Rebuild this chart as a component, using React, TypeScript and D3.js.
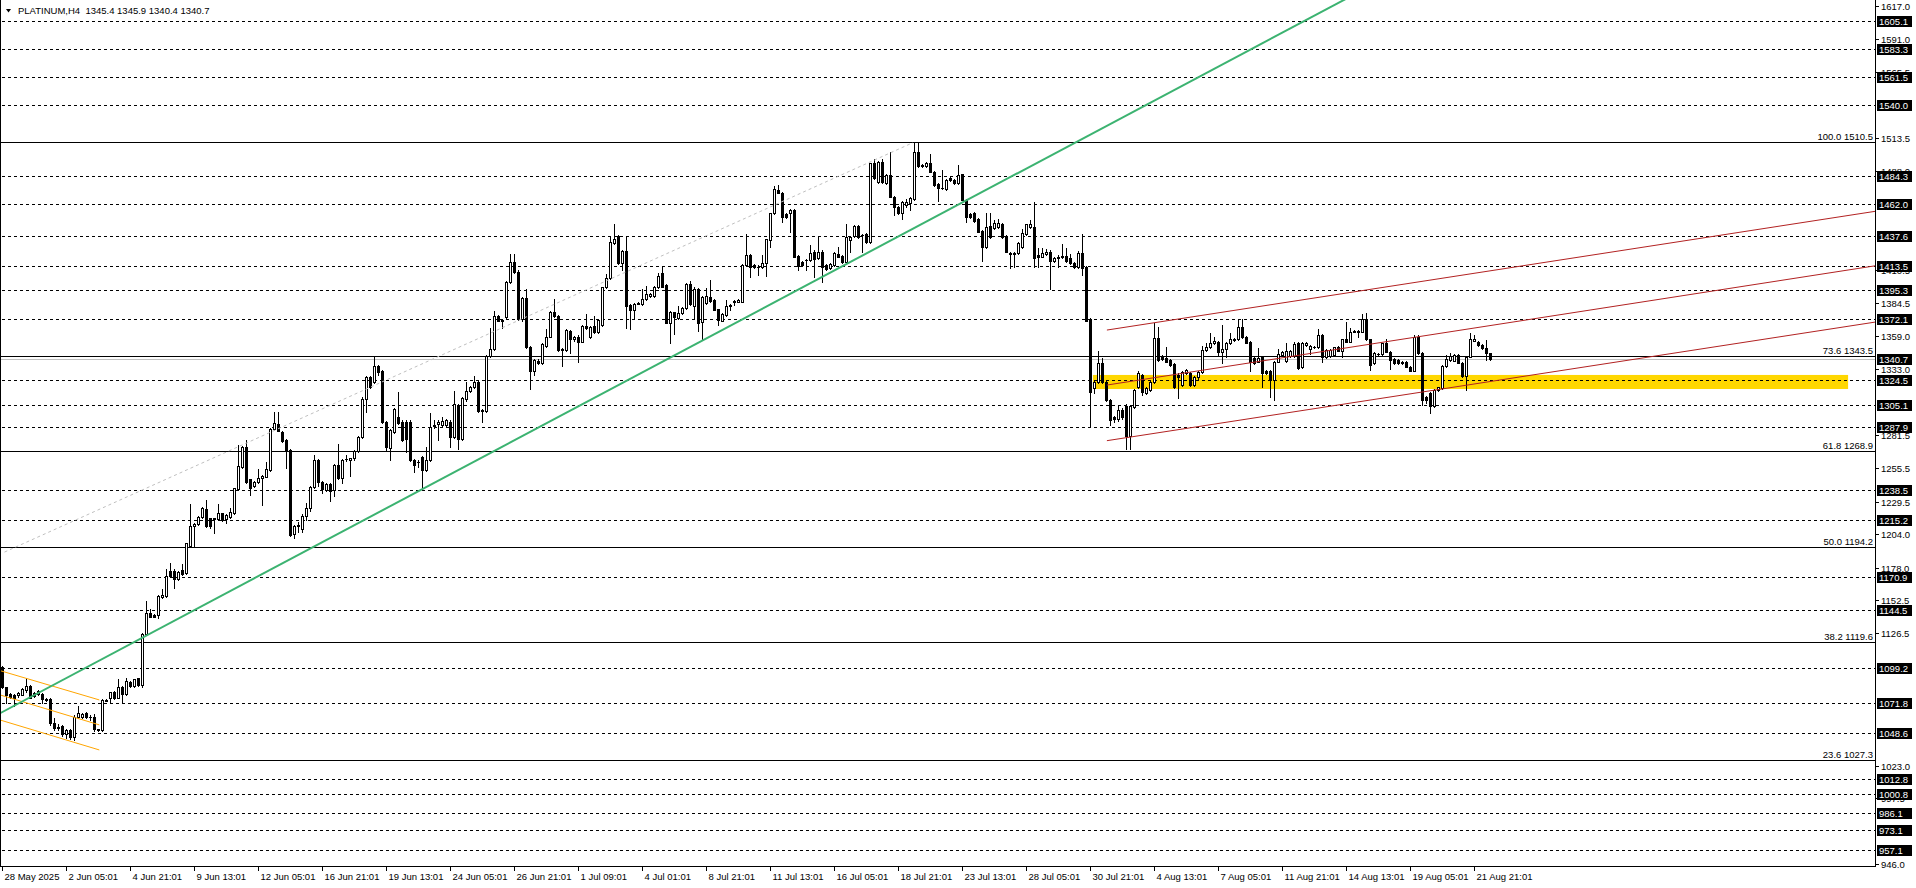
import React from "react";
import * as d3 from "d3";

// ---------------- DATA ----------------
const header = "PLATINUM,H4  1345.4 1345.9 1340.4 1340.7";

// [open, high, low, close] per H4 bar
const barsMayJun: number[][] = [
  [1100, 1101, 1084, 1085], [1084.4, 1085, 1072, 1078.4], [1079.2, 1080, 1076, 1077.1], [1078.4, 1079, 1070, 1076.3],
  [1078.1, 1081, 1077, 1080.2], [1078.4, 1084, 1078, 1083.3], [1082.3, 1092, 1081, 1085.4], [1085.4, 1086, 1076, 1076.3],
  [1080.2, 1081, 1077, 1077.6], [1079.2, 1082.5, 1078.5, 1081.5], [1079.2, 1080, 1072.4, 1075.2], [1075.2, 1076, 1074, 1074.5],
  [1075.2, 1076, 1055, 1056.2], [1056.7, 1060, 1051, 1052.3], [1053.6, 1056, 1051, 1052.8], [1054.1, 1055, 1046, 1047.6],
  [1047.6, 1052, 1044.5, 1051], [1051, 1052, 1044, 1045.3], [1045.3, 1062.5, 1043.2, 1061.4], [1061.4, 1069.8, 1060.5, 1064.6],
  [1061.4, 1064.5, 1060.5, 1063.5], [1064, 1065.3, 1060, 1060.9], [1061.4, 1062.8, 1059, 1061], [1060.9, 1063.5, 1050.5, 1051.5],
  [1051.5, 1052, 1050.5, 1051], [1051, 1075, 1050.5, 1074.5], [1074.5, 1075.3, 1073.5, 1074], [1075.8, 1081, 1071.8, 1080.7],
  [1080.7, 1081.5, 1075.5, 1076.3], [1076.3, 1090.6, 1075.8, 1084.4], [1084.9, 1085.5, 1071.8, 1078.9], [1078.9, 1091.4, 1078.4, 1089.3],
  [1088.8, 1089.5, 1084.5, 1085.4], [1085.4, 1091, 1085, 1090.6], [1091.4, 1092, 1085.5, 1086.2], [1086.2, 1126.5, 1084.4, 1125.8],
  [1125.8, 1151.6, 1125, 1142.2], [1142.2, 1145.3, 1139, 1139.6], [1140.9, 1141.5, 1139, 1139.6], [1140.9, 1156.5, 1138.3, 1155.8],
  [1155.3, 1161, 1154.5, 1156.3], [1155.8, 1176.6, 1155, 1171.4], [1175.6, 1181.3, 1171, 1171.4], [1175.6, 1176.5, 1161.8, 1168.8],
  [1168.8, 1175, 1168, 1174.5], [1176.1, 1180.5, 1172.5, 1173], [1173.5, 1197.5, 1173, 1196.9], [1194.9, 1227.7, 1194, 1210.5],
  [1210.5, 1212.5, 1194.3, 1211.8], [1211.8, 1218, 1211, 1217.3], [1217.3, 1225.6, 1216.5, 1224.3], [1223.5, 1230.8, 1210, 1210.5],
  [1216.5, 1217, 1208.7, 1210.5], [1216, 1217, 1205.3, 1216.5], [1215.7, 1227.4, 1215, 1220.4], [1220.4, 1221, 1214.5, 1215.2],
  [1215.7, 1219.8, 1212.6, 1219.1], [1217.8, 1224.3, 1217, 1221.4], [1220.9, 1240.5, 1220, 1239.9], [1239.2, 1273.8, 1238.5, 1257.4],
  [1256.9, 1273, 1256, 1272.5], [1272.5, 1277.7, 1244.5, 1245.2], [1247, 1247.5, 1234.7, 1240.5], [1241.8, 1246, 1241, 1245.2],
  [1245.2, 1254.8, 1244.5, 1248.3], [1247.8, 1250.3, 1226.9, 1249.6], [1249.1, 1260.8, 1248.5, 1255.1], [1254.3, 1286.8, 1253.5, 1286.1],
  [1286.1, 1299.4, 1285.5, 1291.3], [1290.2, 1299.4, 1284.5, 1285], [1283.7, 1284.5, 1276.5, 1277.2], [1277.7, 1278.5, 1255.6, 1269.9],
  [1269.9, 1270.5, 1203, 1203.5], [1204, 1211, 1200.9, 1210.5], [1210.5, 1213.5, 1205.5, 1211.5],
];

const barsJunJul: number[][] = [
  [1207.9, 1219.5, 1206, 1218.3], [1218.3, 1228.2, 1215.2, 1224.3], [1224.3, 1242, 1222, 1241.3], [1241.3, 1266, 1240.5, 1262.1],
  [1262.1, 1263, 1242, 1245.2], [1244.7, 1245.5, 1236, 1239.2], [1238.7, 1244, 1237.5, 1243.3], [1243.3, 1244, 1230, 1238.1],
  [1238.7, 1259, 1234, 1258.2], [1258.2, 1274.6, 1247.5, 1248.3], [1248.3, 1263, 1244, 1262.1], [1262.6, 1266, 1261.5, 1263.2],
  [1262.1, 1264, 1249.6, 1263.4], [1263.4, 1270, 1262, 1269.4], [1269.4, 1280.5, 1268.5, 1279.8], [1279.8, 1311, 1279, 1309.8],
  [1309.8, 1328, 1299.9, 1327.3], [1327.3, 1328, 1318.5, 1319.4], [1322.8, 1342.9, 1322, 1335.6], [1335.6, 1336.5, 1328.6, 1331.2],
  [1331.7, 1332.5, 1291, 1291.6], [1291.6, 1292.5, 1269, 1272], [1271.2, 1286.5, 1262.1, 1285.6], [1284.3, 1302.5, 1283.5, 1301.7],
  [1296, 1315.5, 1290, 1290.8], [1292.1, 1293, 1277, 1277.7], [1292.1, 1293, 1268.6, 1278.3], [1292.1, 1293, 1261.5, 1262.1],
  [1262.1, 1263, 1253, 1258.2], [1260.8, 1262, 1256.5, 1260.3], [1264.7, 1265.5, 1239.9, 1254.3], [1254.3, 1272.5, 1253.5, 1262.1],
  [1262.1, 1298.6, 1261.5, 1288.2], [1288.6, 1293.4, 1287.5, 1289.5], [1290.3, 1293, 1277.7, 1292.1], [1289.5, 1296, 1288.5, 1292.6],
  [1289.5, 1294, 1288.5, 1293.4], [1292.1, 1293, 1272, 1280.3], [1280.3, 1316.3, 1279.5, 1305.9], [1305.1, 1306, 1271, 1278.3],
  [1278.3, 1311, 1277.5, 1310.3], [1309.5, 1323.3, 1308.5, 1316.3], [1316.3, 1320, 1315.5, 1319.4], [1319.4, 1327.8, 1318.5, 1322.8],
  [1323.3, 1324, 1300, 1300.7], [1301.2, 1302, 1291.6, 1300.7], [1300.7, 1344.5, 1300, 1343.7], [1343.7, 1365, 1343, 1348.9],
  [1348.9, 1378.6, 1348, 1374.7], [1374.7, 1375.5, 1370.5, 1371], [1371.5, 1372.5, 1365, 1371], [1374.2, 1402, 1373.5, 1401.5],
  [1401.5, 1423.2, 1400.5, 1417.2], [1417.2, 1423.2, 1408, 1408.8], [1408.8, 1411, 1371.5, 1372.1], [1372.1, 1389.5, 1371, 1388.5],
  [1388.5, 1395.5, 1349.5, 1350.2], [1350.2, 1351, 1317.4, 1331.9], [1331.9, 1341, 1328.6, 1340.3], [1339.8, 1341, 1337.5, 1338.2],
  [1338.2, 1353.5, 1337, 1352.5], [1351.2, 1364.3, 1350.5, 1358], [1358.5, 1378.5, 1358, 1378.1], [1378.1, 1387.7, 1374, 1374.7],
  [1374.7, 1375.5, 1347.5, 1348.1], [1348.9, 1349.5, 1335.6, 1348.3], [1348.1, 1364.5, 1347.5, 1363.8], [1363.2, 1364, 1346, 1356.4],
  [1356.4, 1359, 1355.5, 1358], [1358.5, 1359.5, 1339, 1354.6], [1354.6, 1367.5, 1354, 1366.9], [1366.9, 1376.2, 1364.5, 1365],
  [1358, 1366.5, 1357.5, 1365.8], [1366.9, 1374.7, 1361.5, 1362.4], [1362.4, 1372.5, 1361.5, 1371.6],
];

const barsJul: number[][] = [
  [1367.7, 1397.5, 1367, 1397.1], [1397.1, 1407.5, 1396.5, 1404.1], [1404.1, 1437.2, 1403.5, 1432.3], [1432, 1446.3, 1431, 1434.6],
  [1437.2, 1437.8, 1415.5, 1415.9], [1416.4, 1426.5, 1411, 1425.8], [1425.8, 1436.7, 1365, 1382.8], [1383.3, 1384, 1364.3, 1379.4],
  [1379.4, 1384.8, 1372.9, 1384.1], [1384.6, 1385.5, 1383.8, 1384.3], [1384.1, 1395.5, 1383.5, 1387.7], [1387.7, 1398.1, 1387, 1391.9],
  [1390.3, 1392.5, 1389.5, 1391.9], [1390.3, 1398, 1389.5, 1397.6], [1397.1, 1408.6, 1396.5, 1406.2], [1408, 1412.7, 1397, 1397.6],
  [1398.9, 1399.5, 1369, 1369.5], [1369.5, 1378.8, 1353.3, 1378.1], [1377.5, 1378.2, 1360.6, 1373.6], [1372.9, 1382.5, 1372, 1377.3],
  [1376.8, 1381.5, 1376, 1380.7], [1380.7, 1400.5, 1380, 1399.7], [1399.7, 1402, 1383.5, 1384.1], [1382.8, 1397, 1373.5, 1395.8],
  [1395.8, 1396.5, 1363, 1369.5], [1370.2, 1390.5, 1355.9, 1389.8], [1384.6, 1396.3, 1384, 1390.3], [1389.3, 1402.8, 1386, 1386.7],
  [1387.2, 1388, 1379, 1379.4], [1379.9, 1380.5, 1367.7, 1371.6], [1371, 1376.8, 1370.5, 1376.2], [1375.5, 1387.2, 1375, 1382.5],
  [1382.5, 1384, 1379, 1383.3], [1385.9, 1387, 1383, 1386.2], [1385.9, 1388, 1385.5, 1387.2], [1385.9, 1415, 1385.5, 1414.6],
  [1414.6, 1438.8, 1414, 1422.1], [1422.1, 1423, 1405.4, 1412.7], [1414.6, 1415.5, 1412, 1412.7], [1413.3, 1414.2, 1406.7, 1413],
  [1412.7, 1422.4, 1412, 1415.9], [1415.9, 1435, 1406, 1434.6], [1434.1, 1455.5, 1428.9, 1455], [1455, 1476, 1454.5, 1473.7],
  [1473.2, 1477.1, 1470.5, 1471.1], [1471.1, 1472, 1448.4, 1452.3], [1454.4, 1455, 1451.5, 1452.3], [1454.9, 1458.5, 1440.6, 1457.6],
  [1457.6, 1458.5, 1420.5, 1421.1], [1421.6, 1422.5, 1410.6, 1413.8], [1417.2, 1418, 1413.5, 1414.6], [1418.5, 1419.2, 1410.6, 1418.8],
  [1418.5, 1430.2, 1418, 1424.2], [1425, 1426, 1405.4, 1419], [1419.8, 1437.2, 1419, 1425], [1425, 1426, 1401.5, 1413.3],
  [1414.6, 1415.5, 1410.5, 1411.2], [1412, 1416, 1411.5, 1415.1], [1414.6, 1424.5, 1414, 1423.7], [1422.9, 1428.9, 1420.5, 1421.1],
  [1421.6, 1422.5, 1416.5, 1417.2], [1417.2, 1446.3, 1416.5, 1436.7], [1434.1, 1437.5, 1425, 1436.7], [1437.2, 1445.8, 1436.5, 1445],
  [1445, 1446, 1436, 1436.7], [1438, 1439, 1425, 1438.3], [1438.8, 1439.5, 1432, 1432.8], [1432.8, 1494.5, 1432, 1494],
  [1494, 1497.2, 1481.5, 1482.3], [1479.7, 1496, 1479, 1495.3], [1495.3, 1497.2, 1479, 1479.7], [1478.9, 1485.5, 1478, 1484.9],
  [1484.9, 1503.2, 1467.5, 1468], [1468, 1468.8, 1453.7, 1460.2], [1460.2, 1461, 1454.5, 1455],
];

const barsJulAug: number[][] = [
  [1455, 1464.8, 1450.3, 1464.1], [1461.5, 1466, 1460, 1464.1], [1462.8, 1467.5, 1457.5, 1466.7], [1465.9, 1510.5, 1465, 1503.2],
  [1503.2, 1510.2, 1491.5, 1492], [1492.7, 1493.5, 1491, 1491.9], [1492, 1494.8, 1491.2, 1494], [1494, 1501.3, 1487, 1487.5],
  [1487.5, 1488.2, 1476.5, 1477.1], [1477.9, 1478.5, 1464.9, 1474.5], [1474.5, 1488.8, 1474, 1474.7], [1474, 1481.8, 1473.2, 1481],
  [1482.3, 1483, 1480.5, 1481], [1481, 1481.8, 1478.2, 1478.9], [1478.9, 1492.7, 1478.2, 1484.9], [1485.4, 1486, 1465, 1465.4],
  [1465.4, 1466, 1448.4, 1452.3], [1454.4, 1455.2, 1451.5, 1452.3], [1455.5, 1456.2, 1448.5, 1449.2], [1450.3, 1451, 1440, 1440.6],
  [1441.4, 1442, 1417.9, 1428.9], [1428.4, 1455, 1427.5, 1444.5], [1445, 1455, 1436, 1436.7], [1443.2, 1449.8, 1442.5, 1447.1],
  [1444.5, 1450.3, 1443.8, 1447.6], [1446.6, 1447.3, 1435.5, 1436.2], [1437.2, 1438, 1424.5, 1425], [1424.2, 1425, 1412, 1423.2],
  [1424.2, 1425, 1413.3, 1423.2], [1423.7, 1432.8, 1423, 1432], [1428.9, 1443, 1428, 1439.3], [1438.8, 1447, 1438, 1446.3],
  [1444, 1449.8, 1443.5, 1446.6], [1444.5, 1464.1, 1413.3, 1419.8], [1422.4, 1427.6, 1413, 1421.1], [1421.1, 1427.6, 1420.5, 1423.7],
  [1423.2, 1426.8, 1422.5, 1425], [1425, 1426, 1395.5, 1417.9], [1417.9, 1421, 1417.2, 1420.3], [1421.1, 1422, 1413, 1419.8],
  [1420.6, 1431, 1420, 1421.6], [1421.6, 1427.6, 1417.2, 1417.9], [1419.8, 1423, 1415.2, 1415.9], [1416.4, 1417, 1412, 1412.7],
  [1412.7, 1425.8, 1412, 1423.7], [1423.7, 1438.8, 1407, 1412], [1412.7, 1413.5, 1370.5, 1371], [1372.1, 1373, 1288.2, 1315.5],
  [1318.1, 1324, 1314.2, 1323.3], [1323.3, 1347.6, 1322.5, 1338.2], [1338.2, 1341.6, 1322.5, 1323.3], [1323.3, 1324, 1308.5, 1309],
  [1309, 1309.8, 1289.5, 1293.4], [1295.5, 1296.5, 1292, 1293.9], [1294.5, 1305, 1292.5, 1301.5], [1301.5, 1303, 1294.5, 1296],
  [1304, 1306, 1270.4, 1280.5], [1280.5, 1305, 1271, 1304], [1303.8, 1317.5, 1303, 1316.8], [1319.4, 1332, 1318.5, 1329.9],
  [1328.6, 1329.5, 1313, 1315.5], [1314.2, 1319, 1313.5, 1318.1], [1316.8, 1324, 1316, 1323.3], [1323.3, 1369.5, 1322.5, 1357.2],
  [1357.2, 1366, 1339.5, 1340.3], [1342.9, 1344, 1340, 1340.8], [1342.1, 1350.7, 1338.5, 1339], [1340.3, 1341, 1335.5, 1336.4],
  [1337.2, 1338, 1318.5, 1319.4], [1328.6, 1330, 1310.3, 1327.3], [1320.7, 1332, 1320, 1331.2], [1330.4, 1333.5, 1329.5, 1332.5],
  [1330.4, 1331.2, 1320, 1320.7], [1320.7, 1327.5, 1320, 1326.7], [1326.7, 1332, 1324.5, 1331.2],
];

const barsAug: number[][] = [
  [1331.2, 1351, 1330.5, 1348.1], [1348.1, 1353.3, 1347.5, 1350.7], [1350.7, 1361.1, 1350, 1353.8], [1353.3, 1358.5, 1352.5, 1355.4],
  [1354.6, 1355.5, 1344.2, 1346.8], [1346.8, 1367.7, 1337.7, 1348.6], [1348.6, 1354.5, 1342.9, 1353.8], [1353.8, 1361.1, 1353, 1356.4],
  [1356, 1357.5, 1355.2, 1356.4], [1356.4, 1372.1, 1355.8, 1366.4], [1366.4, 1372.1, 1357.5, 1358], [1358, 1358.8, 1353.2, 1353.8],
  [1354.6, 1355.3, 1332, 1339], [1341.6, 1342.3, 1337, 1337.7], [1339, 1349.4, 1338.4, 1341.6], [1342.4, 1343, 1319.4, 1330.4],
  [1332, 1332.7, 1329.3, 1329.9], [1331.9, 1332.6, 1311.1, 1324.7], [1324.7, 1339.7, 1309, 1339], [1339, 1348.6, 1338.4, 1345],
  [1344.2, 1347.5, 1343.5, 1346.8], [1339.8, 1353.3, 1339, 1347.6], [1343.4, 1348.3, 1342.7, 1347.6], [1343.4, 1354.6, 1342.8, 1352.8],
  [1353.3, 1354, 1333.2, 1333.8], [1335.1, 1354, 1334.4, 1353.3], [1352, 1354.5, 1351.4, 1353.8], [1348.6, 1351.8, 1345, 1351.2],
  [1350.7, 1351.4, 1350, 1350.7], [1350.7, 1364.3, 1350, 1359.8], [1359.8, 1360.5, 1339, 1342.9], [1343, 1348.7, 1341.5, 1348.1],
  [1343.4, 1348.7, 1342.8, 1348.1], [1344.2, 1350.8, 1343.6, 1350.2], [1350.7, 1351.4, 1347, 1347.6], [1347.6, 1357, 1342.9, 1356.4],
  [1356.4, 1370.3, 1354, 1354.6], [1354.6, 1365.1, 1354, 1362.4], [1362.4, 1363.8, 1361.8, 1363.2], [1363.2, 1363.9, 1358.5, 1362.4],
  [1362.4, 1376.3, 1361.8, 1372.1], [1372.1, 1377.3, 1355.8, 1356.4], [1356.4, 1357, 1332.5, 1336.4], [1337.7, 1346.6, 1337, 1346],
  [1345, 1345.7, 1344.3, 1345], [1345, 1353.9, 1344.4, 1353.3], [1353.3, 1356.4, 1346.2, 1346.8], [1346.8, 1347.5, 1333, 1340.3],
  [1340.8, 1341.5, 1337.1, 1337.7], [1340.3, 1341, 1337.1, 1337.7], [1339, 1339.7, 1337.1, 1337.7], [1339, 1339.7, 1334.5, 1335.1],
  [1335.1, 1335.8, 1331.4, 1332], [1332, 1360, 1331.4, 1358], [1358, 1360, 1345, 1345.5], [1345.5, 1346.2, 1305, 1309],
  [1311.6, 1312.3, 1306.4, 1309], [1314.2, 1314.9, 1298.6, 1304.3], [1304.3, 1317.4, 1303.7, 1316.8], [1316.8, 1319.5, 1316.2, 1318.9],
  [1318.1, 1336.2, 1317.5, 1335.6], [1335.6, 1344.2, 1335, 1340.8], [1340.3, 1345.5, 1339.7, 1343.4], [1339.8, 1344.8, 1339.2, 1344.2],
  [1344.2, 1344.9, 1337.6, 1338.2], [1338.2, 1338.9, 1326.7, 1327.8], [1327.8, 1343.5, 1316.8, 1342.9], [1342.9, 1361.6, 1342.3, 1356.4],
  [1355.4, 1359.5, 1354.8, 1356.4], [1354.6, 1355.3, 1351.4, 1352], [1352, 1352.7, 1348.8, 1349.4], [1349.4, 1356, 1340, 1346],
  [1345.4, 1345.9, 1340.4, 1340.7],
];

const dateLabels = [
  "28 May 2025", "2 Jun 05:01", "4 Jun 21:01", "9 Jun 13:01", "12 Jun 05:01", "16 Jun 21:01",
  "19 Jun 13:01", "24 Jun 05:01", "26 Jun 21:01", "1 Jul 09:01", "4 Jul 01:01", "8 Jul 21:01",
  "11 Jul 13:01", "16 Jul 05:01", "18 Jul 21:01", "23 Jul 13:01", "28 Jul 05:01", "30 Jul 21:01",
  "4 Aug 13:01", "7 Aug 05:01", "11 Aug 21:01", "14 Aug 13:01", "19 Aug 05:01", "21 Aug 21:01",
];
const barsPerLabel = 16;

// price-scale labels visible in the reference (ones fully covered by level labels omitted)
const priceTicks = [
  1617.0, 1591.0, 1565.5, 1513.5, 1488.0, 1410.5, 1384.5, 1359.0, 1333.0,
  1281.5, 1255.5, 1229.5, 1204.0, 1178.0, 1152.5, 1126.5, 1023.0, 997.5, 946.0,
];

const dashedLevels = [
  1605.1, 1583.3, 1561.5, 1540.0, 1484.3, 1462.0, 1437.6, 1413.5, 1395.3, 1372.1, 1324.5, 1305.1, 1287.9,
  1238.5, 1215.2, 1170.9, 1144.5, 1099.2, 1071.8, 1048.6, 1012.8, 1000.8, 986.1, 973.1, 957.1,
];

const fibPercents = ["100.0", "73.6", "61.8", "50.0", "38.2", "23.6"];
const fibPrices = [1510.5, 1343.5, 1268.9, 1194.2, 1119.6, 1027.3];

const bidPrice = 1340.7;

// trend lines: [barIndex1, price1, barIndex2, price2]
const greenTrend = [-0.6, 1064.1, 274.4, 1520.6];
const fibTrend = [0.5, 1190.1, 227.6, 1510.2];
const orangeChannel = [
  [-0.6, 1097.4, 24.2, 1074.5],
  [-0.6, 1078.4, 24.2, 1055.0],
  [-0.6, 1058.8, 24.2, 1035.4],
];
const redChannel = [
  [276.1, 1363.7, 468.1, 1456.5],
  [276.1, 1320.7, 468.1, 1413.9],
  [276.1, 1277.2, 468.1, 1369.9],
];
const zoneRect = [272.6, 1328.6, 461.4, 1317.6];

// ---------------- CHART ----------------
const W = 1916;
const H = 888;
const plotRight = 1875;
const plotBottom = 867;
const FONT = "'Liberation Sans', Arial, sans-serif";

export default function App() {
  const bars = [...barsMayJun, ...barsJunJul, ...barsJul, ...barsJulAug, ...barsAug];

  const x = d3.scaleLinear().domain([0, 1]).range([2.5, 6.5]);
  const y = d3.scaleLinear().domain([1510.5, 1027.3]).range([142.3, 760.3]);

  const py = (p: number) => Math.round(y(p)) + 0.5;

  const extend = (t: number[], ray: boolean) => {
    const [i1, p1, i2, p2] = t;
    if (!ray) return [x(i1), y(p1), x(i2), y(p2)];
    const slope = (p2 - p1) / (i2 - i1);
    const iEnd = 480;
    return [x(i1), y(p1), x(iEnd), y(p1 + slope * (iEnd - i1))];
  };

  const candleEls = bars.map((b, i) => {
    const [o, h, l, c] = b;
    const cx = Math.round(x(i) - 0.5);
    const yH = Math.round(y(h));
    const yL = Math.round(y(l));
    const yO = Math.round(y(o));
    const yC = Math.round(y(c));
    const top = Math.min(yO, yC);
    const bot = Math.max(yO, yC);
    const bull = c >= o;
    return (
      <g key={i}>
        <rect x={cx} y={yH} width={1} height={Math.max(1, yL - yH + 1)} fill="#000" />
        <rect x={cx - 1} y={top} width={3} height={bot - top + 1} fill="#000" />
        {bull && bot - top >= 2 && (
          <rect x={cx} y={top + 1} width={1} height={bot - top - 1} fill="#fff" />
        )}
      </g>
    );
  });

  const lineEl = (t: number[], ray: boolean, stroke: string, sw: number, dash?: string, key?: string) => {
    const [x1, y1, x2, y2] = extend(t, ray);
    return (
      <line key={key} x1={x1} y1={y1} x2={x2} y2={y2} stroke={stroke} strokeWidth={sw} strokeDasharray={dash} />
    );
  };

  const [ri1, rp1, ri2, rp2] = zoneRect;

  return (
    <svg
      width={W}
      height={H}
      style={{ position: "absolute", left: 0, top: 0, background: "#fff" }}
      fontFamily={FONT}
    >
      <defs>
        <clipPath id="plot">
          <rect x={0} y={0} width={plotRight} height={plotBottom} />
        </clipPath>
      </defs>
      <rect x={0} y={0} width={W} height={H} fill="#fff" />

      <g clipPath="url(#plot)">
        <rect
          x={x(ri1)}
          y={y(rp1)}
          width={x(ri2) - x(ri1)}
          height={y(rp2) - y(rp1)}
          fill="#FFD700"
        />
        <g shapeRendering="crispEdges">
          {dashedLevels.map((p) => (
            <line key={p} x1={2} x2={plotRight} y1={py(p)} y2={py(p)} stroke="#000" strokeWidth={1} strokeDasharray="3,3" />
          ))}
          {fibPrices.map((p) => (
            <line key={"f" + p} x1={0} x2={plotRight} y1={py(p)} y2={py(p)} stroke="#000" strokeWidth={1} />
          ))}
          <line x1={0} x2={plotRight} y1={py(bidPrice)} y2={py(bidPrice)} stroke="#C0C0C0" strokeWidth={1} />
        </g>
        {fibPrices.map((p, k) => (
          <text key={"ft" + p} x={plotRight - 2} y={py(p) - 2.5} fontSize={9.5} textAnchor="end" fill="#000">
            {fibPercents[k] + " " + p.toFixed(1)}
          </text>
        ))}
        <g shapeRendering="crispEdges">{candleEls}</g>
        {lineEl(fibTrend, false, "#C0C0C0", 1, "3,3")}
        {orangeChannel.map((t, k) => lineEl(t, false, "#FFA500", 1, undefined, "o" + k))}
        {redChannel.map((t, k) => lineEl(t, true, "#B22222", 1, undefined, "r" + k))}
        {lineEl(greenTrend, true, "#3CB371", 2)}
      </g>

      <g shapeRendering="crispEdges">
        <line x1={0.5} x2={0.5} y1={0} y2={plotBottom} stroke="#000" />
        <line x1={plotRight + 0.5} x2={plotRight + 0.5} y1={0} y2={plotBottom} stroke="#000" />
        <line x1={0} x2={plotRight + 1} y1={plotBottom - 0.5} y2={plotBottom - 0.5} stroke="#000" />
      </g>

      {priceTicks.map((p) => (
        <g key={"t" + p}>
          <line x1={plotRight} x2={plotRight + 4} y1={py(p)} y2={py(p)} stroke="#000" shapeRendering="crispEdges" />
          <text x={plotRight + 6} y={py(p) + 3.5} fontSize={9.5} fill="#000">
            {p.toFixed(1)}
          </text>
        </g>
      ))}

      {[...dashedLevels, bidPrice].map((p) => (
        <g key={"b" + p}>
          <rect x={plotRight + 2} y={Math.round(y(p)) - 5} width={35} height={11} fill="#000" />
          <text x={plotRight + 4} y={py(p) + 3.5} fontSize={9.5} fill="#fff">
            {p.toFixed(1)}
          </text>
        </g>
      ))}

      {dateLabels.map((lab, k) => {
        const xx = Math.round(x(k * barsPerLabel) - 0.5) + 0.5;
        return (
          <g key={lab}>
            <line x1={xx} x2={xx} y1={plotBottom} y2={plotBottom + 4} stroke="#000" shapeRendering="crispEdges" />
            <text x={xx + 2} y={880} fontSize={9.5} fill="#000">
              {lab}
            </text>
          </g>
        );
      })}

      <path d="M6,9 L11,9 L8.5,12.5 Z" fill="#000" />
      <text x={18} y={14} fontSize={9.5} fill="#000" style={{ whiteSpace: "pre" }}>
        {header}
      </text>
    </svg>
  );
}
